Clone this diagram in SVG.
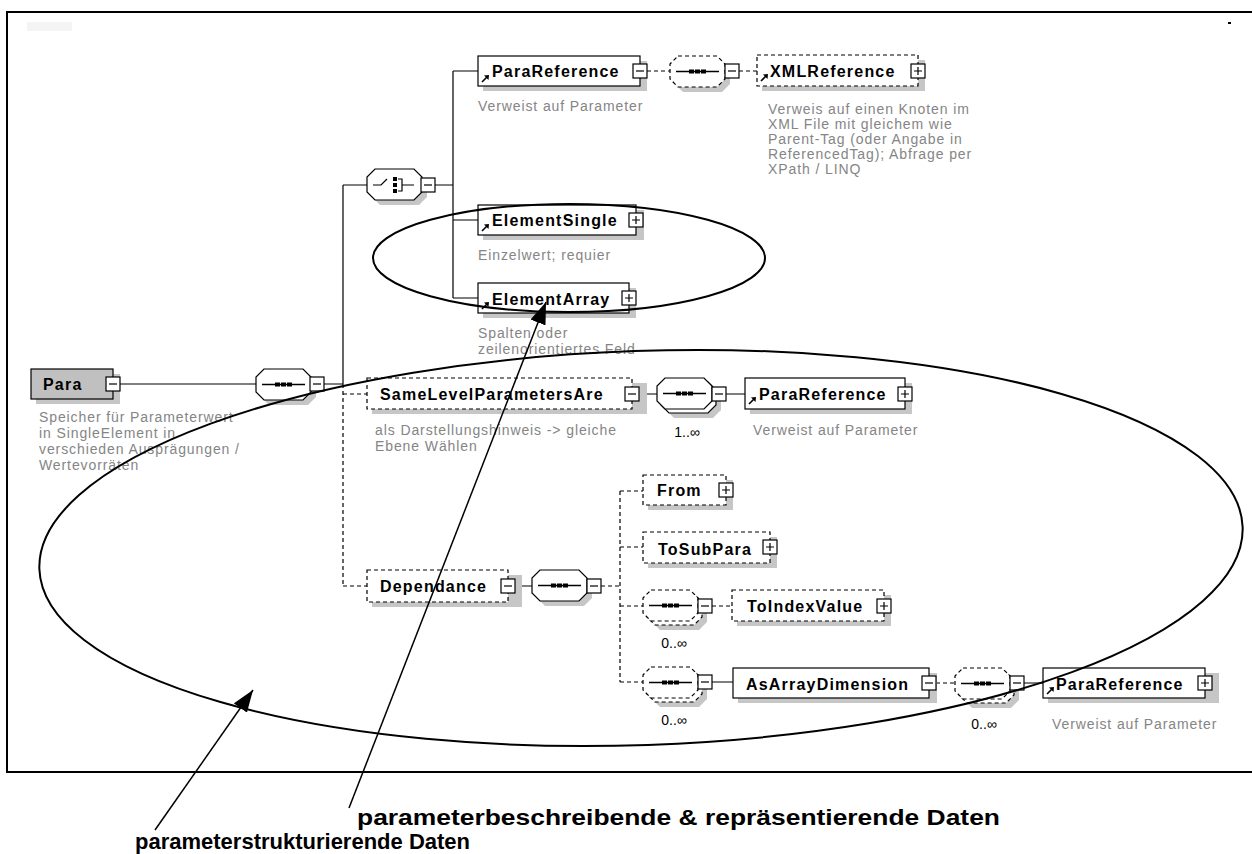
<svg xmlns="http://www.w3.org/2000/svg" width="1252" height="854" viewBox="0 0 1252 854">
<style>
.bx{fill:#fff;stroke:#000;stroke-width:1.2}
.d{stroke-dasharray:4 3}
.sh{fill:#c6c6c6;stroke:none}
.lbl{font-family:"Liberation Sans",Arial,sans-serif;font-weight:bold;font-size:16px;letter-spacing:1.2px;fill:#000}
.cap{font-family:"Liberation Sans",Arial,sans-serif;font-size:14px;letter-spacing:0.9px;fill:#858585}
.occ{font-family:"Liberation Sans",Arial,sans-serif;font-size:14px;fill:#000;text-anchor:middle}
.cn{fill:none;stroke:#000;stroke-width:1.2}
.ann{fill:none;stroke:#000;stroke-width:2}
.big{font-family:"Liberation Sans",Arial,sans-serif;font-weight:bold;font-size:22px;fill:#000}
</style>
<defs>
<path id="oct" d="M8,0H47L55,8V23L47,31H8L0,23V8Z"/>
<g id="seq"><line x1="6" y1="15.5" x2="49" y2="15.5" stroke="#000" stroke-width="1.3"/><rect x="19" y="13.5" width="5" height="4"/><rect x="25" y="13.5" width="5" height="4"/><rect x="31" y="13.5" width="5" height="4"/></g>
<g id="mi"><rect x="-7" y="-7" width="14" height="14" class="bx"/><path d="M-4,0H4" stroke="#000" stroke-width="1.2"/></g>
<g id="pl"><rect x="-7" y="-7" width="14" height="14" class="bx"/><path d="M-4,0H4M0,-4V4" stroke="#000" stroke-width="1.2"/></g>
<g id="ref"><path d="M1,7L6,2" stroke="#000" stroke-width="1.6"/><path d="M8,0L3,0.5L7.5,5Z" fill="#000"/></g>
<marker id="ah" markerWidth="22" markerHeight="16" refX="22" refY="8" orient="auto" markerUnits="userSpaceOnUse"><path d="M0,0L22,8L0,16Z" fill="#000"/></marker>
</defs>

<rect x="27" y="22" width="45" height="9" fill="#f4f4f4"/>
<rect x="1228" y="22" width="3" height="2" fill="#000"/>
<path d="M1260,12H7V772H1260" fill="none" stroke="#000" stroke-width="2"/>

<g id="connectors">
<path class="cn" d="M120,384H256M324,384H343M343,185V384M343,185H367M435,185H453M453,71V298M453,71H478M453,220H478M453,298H478M639,394H657M726,394H745M515,586H532M712,682H733M1024,683H1043"/>
<path class="cn d" d="M343,384V586M343,394H367M343,586H367M647,71H670M739,71H757M601,586H620M620,491V682M620,491H643M620,547H643M620,606H643M620,682H643M712,606H732M936,683H955"/>
</g>

<g id="node-para">
<rect x="36" y="374" width="84" height="30" class="sh"/>
<rect x="31" y="369" width="82" height="30" fill="#c0c0c0" stroke="#000" stroke-width="1.2"/>
<text x="43" y="390" class="lbl">Para</text>
<use href="#mi" x="113" y="384"/>
<text class="cap"><tspan x="39" y="422">Speicher für Parameterwert</tspan><tspan x="39" y="438">in SingleElement in</tspan><tspan x="39" y="454">verschieden Ausprägungen /</tspan><tspan x="39" y="470">Wertevorräten</tspan></text>
</g>

<g id="node-seq1">
<use href="#oct" x="261" y="374" class="sh"/>
<use href="#oct" x="256" y="369" class="bx"/>
<use href="#seq" x="256" y="369"/>
<use href="#mi" x="317" y="384"/>
</g>

<g id="node-choice">
<use href="#oct" x="372" y="174" class="sh"/>
<use href="#oct" x="367" y="169" class="bx"/>
<path d="M373,185H381L387,179M398,179H402V191H398M402,185H414" fill="none" stroke="#000" stroke-width="1.2"/>
<rect x="393" y="177" width="4" height="4"/><rect x="393" y="183" width="4" height="4"/><rect x="393" y="189" width="4" height="4"/>
<use href="#mi" x="428" y="185"/>
</g>

<g id="node-parareference-top">
<rect x="483" y="61" width="164" height="30" class="sh"/>
<rect x="478" y="56" width="162" height="30" class="bx"/>
<use href="#ref" x="481" y="75"/>
<text x="492" y="77" class="lbl">ParaReference</text>
<use href="#mi" x="640" y="71"/>
<text x="478" y="111" class="cap">Verweist auf Parameter</text>
</g>

<g id="node-seq-top">
<use href="#oct" x="675" y="61" class="sh"/>
<use href="#oct" x="670" y="56" class="bx d"/>
<use href="#seq" x="670" y="56"/>
<use href="#mi" x="732" y="71"/>
</g>

<g id="node-xmlreference">
<rect x="762" y="60" width="163" height="31" class="sh"/>
<rect x="757" y="55" width="161" height="31" class="bx d"/>
<use href="#ref" x="760" y="74"/>
<text x="770" y="77" class="lbl">XMLReference</text>
<use href="#pl" x="918" y="71"/>
<text class="cap"><tspan x="768" y="114">Verweis auf einen Knoten im</tspan><tspan x="768" y="129">XML File mit gleichem wie</tspan><tspan x="768" y="144">Parent-Tag (oder Angabe in</tspan><tspan x="768" y="159">ReferencedTag); Abfrage per</tspan><tspan x="768" y="174">XPath / LINQ</tspan></text>
</g>

<g id="node-elementsingle">
<rect x="483" y="210" width="161" height="30" class="sh"/>
<rect x="478" y="205" width="158" height="30" class="bx"/>
<use href="#ref" x="481" y="224"/>
<text x="492" y="226" class="lbl">ElementSingle</text>
<use href="#pl" x="636" y="220"/>
<text x="478" y="260" class="cap">Einzelwert; requier</text>
</g>

<g id="node-elementarray">
<rect x="483" y="288" width="153" height="30" class="sh"/>
<rect x="478" y="283" width="151" height="30" class="bx"/>
<use href="#ref" x="481" y="302"/>
<text x="492" y="305" class="lbl">ElementArray</text>
<use href="#pl" x="629" y="298"/>
<text class="cap"><tspan x="478" y="338">Spalten oder</tspan><tspan x="478" y="354">zeilenorientiertes Feld</tspan></text>
</g>

<g id="node-samelevel">
<rect x="372" y="383" width="275" height="31" class="sh"/>
<rect x="367" y="378" width="265" height="31" class="bx d"/>
<text x="380" y="400" class="lbl">SameLevelParametersAre</text>
<use href="#mi" x="632" y="394"/>
<text class="cap"><tspan x="375" y="435">als Darstellungshinweis -&gt; gleiche</tspan><tspan x="375" y="451">Ebene Wählen</tspan></text>
</g>

<g id="node-seq2">
<use href="#oct" x="666" y="387" class="sh"/>
<use href="#oct" x="661" y="382" class="bx"/>
<use href="#oct" x="657" y="378" class="bx"/>
<use href="#seq" x="657" y="378"/>
<use href="#mi" x="719" y="394"/>
<text x="687" y="437" class="occ">1..∞</text>
</g>

<g id="node-parareference-mid">
<rect x="750" y="383" width="162" height="31" class="sh"/>
<rect x="745" y="378" width="160" height="31" class="bx"/>
<use href="#ref" x="748" y="397"/>
<text x="759" y="400" class="lbl">ParaReference</text>
<use href="#pl" x="905" y="394"/>
<text x="753" y="435" class="cap">Verweist auf Parameter</text>
</g>

<g id="node-dependance">
<rect x="372" y="575" width="150" height="32" class="sh"/>
<rect x="367" y="570" width="141" height="32" class="bx d"/>
<text x="380" y="592" class="lbl">Dependance</text>
<use href="#mi" x="508" y="586"/>
</g>

<g id="node-seq3">
<use href="#oct" x="537" y="575" class="sh"/>
<use href="#oct" x="532" y="570" class="bx"/>
<use href="#seq" x="532" y="570"/>
<use href="#mi" x="594" y="586"/>
</g>

<g id="node-from">
<rect x="648" y="480" width="85" height="30" class="sh"/>
<rect x="643" y="475" width="83" height="30" class="bx d"/>
<text x="657" y="496" class="lbl">From</text>
<use href="#pl" x="726" y="490"/>
</g>

<g id="node-tosubpara">
<rect x="648" y="537" width="129" height="31" class="sh"/>
<rect x="643" y="532" width="127" height="31" class="bx d"/>
<text x="658" y="555" class="lbl">ToSubPara</text>
<use href="#pl" x="770" y="547"/>
</g>

<g id="node-seq4">
<use href="#oct" x="652" y="599" class="sh"/>
<use href="#oct" x="647" y="594" class="bx d"/>
<use href="#oct" x="643" y="590" class="bx d"/>
<use href="#seq" x="643" y="590"/>
<use href="#mi" x="705" y="606"/>
<text x="674" y="648" class="occ">0..∞</text>
</g>

<g id="node-toindexvalue">
<rect x="737" y="595" width="154" height="31" class="sh"/>
<rect x="732" y="590" width="152" height="31" class="bx d"/>
<text x="747" y="612" class="lbl">ToIndexValue</text>
<use href="#pl" x="884" y="606"/>
</g>

<g id="node-seq5">
<use href="#oct" x="652" y="676" class="sh"/>
<use href="#oct" x="647" y="671" class="bx d"/>
<use href="#oct" x="643" y="667" class="bx d"/>
<use href="#seq" x="643" y="667"/>
<use href="#mi" x="705" y="682"/>
<text x="674" y="725" class="occ">0..∞</text>
</g>

<g id="node-asarraydimension">
<rect x="738" y="673" width="199" height="30" class="sh"/>
<rect x="733" y="668" width="196" height="30" class="bx"/>
<text x="746" y="690" class="lbl">AsArrayDimension</text>
<use href="#mi" x="929" y="683"/>
</g>

<g id="node-seq6">
<use href="#oct" x="964" y="677" class="sh"/>
<use href="#oct" x="959" y="672" class="bx d"/>
<use href="#oct" x="955" y="668" class="bx d"/>
<use href="#seq" x="955" y="668"/>
<use href="#mi" x="1017" y="683"/>
<text x="984" y="729" class="occ">0..∞</text>
</g>

<g id="node-parareference-bottom">
<rect x="1048" y="673" width="171" height="30" class="sh"/>
<rect x="1043" y="668" width="162" height="30" class="bx"/>
<use href="#ref" x="1046" y="687"/>
<text x="1056" y="690" class="lbl">ParaReference</text>
<use href="#pl" x="1205" y="683"/>
<text x="1052" y="729" class="cap">Verweist auf Parameter</text>
</g>

<g id="annotations">
<ellipse cx="569" cy="258" rx="196" ry="54" class="ann"/>
<ellipse cx="641" cy="548" rx="602" ry="197" transform="rotate(-2 641 548)" class="ann"/>
<line x1="155" y1="830" x2="253" y2="690" stroke="#000" stroke-width="1.5" marker-end="url(#ah)"/>
<line x1="349" y1="808" x2="546" y2="302" stroke="#000" stroke-width="1.5" marker-end="url(#ah)"/>
<text x="357" y="825" class="big" textLength="643" lengthAdjust="spacingAndGlyphs">parameterbeschreibende &amp; repräsentierende Daten</text>
<text x="135" y="849" class="big">parameterstrukturierende Daten</text>
</g>
</svg>
